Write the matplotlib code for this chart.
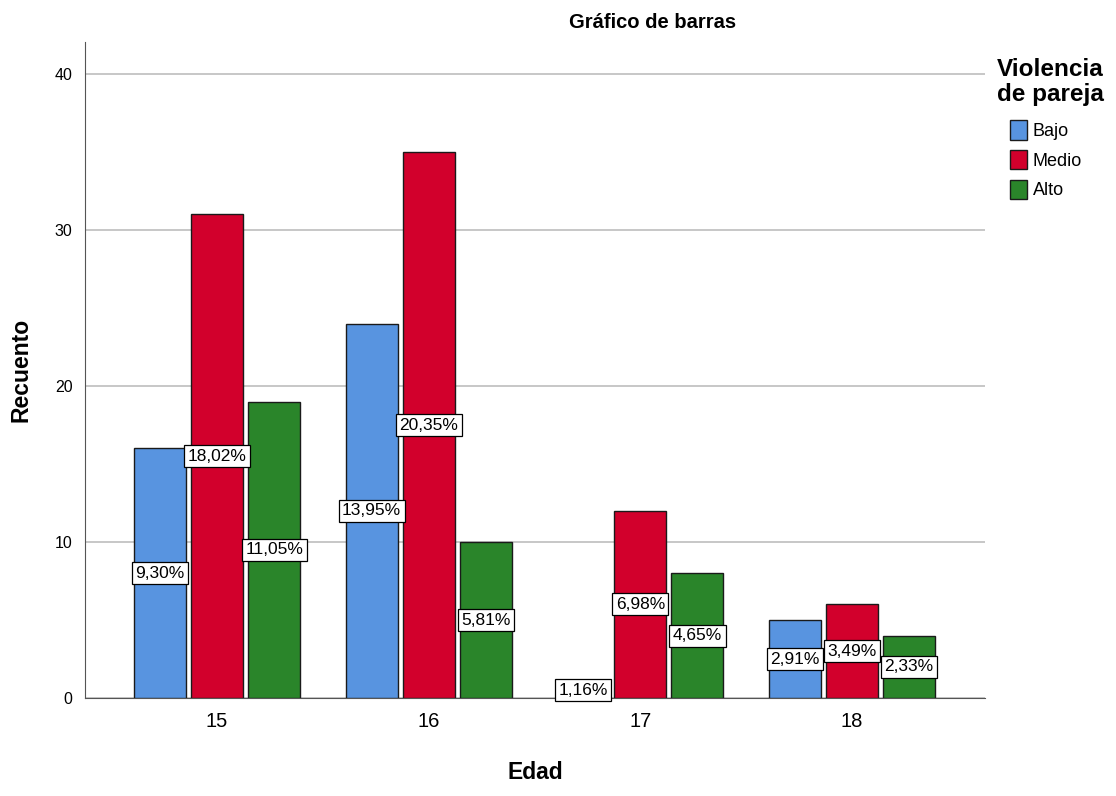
import numpy as np
import matplotlib.pyplot as plt

plt.rcParams['font.family'] = ['Liberation Sans', 'DejaVu Sans']

edades = ['15', '16', '17', '18']
niveles = ['Bajo', 'Medio', 'Alto']
recuento = {
    'Bajo': [16, 24, 1, 5],
    'Medio': [31, 35, 12, 6],
    'Alto': [19, 10, 8, 4],
}
porcentajes = {
    'Bajo': ['9,30%', '13,95%', '1,16%', '2,91%'],
    'Medio': ['18,02%', '20,35%', '6,98%', '3,49%'],
    'Alto': ['11,05%', '5,81%', '4,65%', '2,33%'],
}
colores = ['#5894e0', '#d2002c', '#2a852a']

fig = plt.figure(figsize=(11.16, 7.96), dpi=100)
ax = fig.add_axes([0.0762, 0.1231, 0.8064, 0.8241])

x = np.arange(len(edades))
width = 0.246
step = 0.27
for k, nivel in enumerate(niveles):
    pos = x + (k - 1) * step
    vals = np.array(recuento[nivel])
    ax.bar(pos, vals, width, color=colores[k], edgecolor='#1a1a1a',
           linewidth=1.0, label=nivel, zorder=3)
    for p, v, t in zip(pos, vals, porcentajes[nivel]):
        ax.text(p, v / 2, t, ha='center', va='center', fontsize=12.5, zorder=5,
                bbox=dict(boxstyle='square,pad=0.2', facecolor='white',
                          edgecolor='black', linewidth=0.9))

ax.set_xlim(-0.624, 3.629)
ax.set_ylim(0, 42.05)
ax.set_yticks([0, 10, 20, 30, 40])
ax.set_xticks(x)
ax.set_xticklabels(edades, fontsize=14.5)
ax.tick_params(axis='y', labelsize=11.5, length=0, pad=9)
ax.tick_params(axis='x', length=0, pad=10)
ax.yaxis.grid(True, color='#b8b8b8', linewidth=1.1, zorder=0)
for s in ['top', 'right']:
    ax.spines[s].set_visible(False)
ax.spines['left'].set_color('#555555')
ax.spines['bottom'].set_color('#555555')

ax.set_ylabel('Recuento', fontsize=16.5, fontweight='bold', labelpad=16)
ax.set_xlabel('Edad', fontsize=16.5, fontweight='bold', labelpad=22)
fig.text(0.585, 0.972, 'Gráfico de barras', ha='center', va='center',
         fontsize=14.5, fontweight='bold')

fig.text(0.893, 0.897, 'Violencia\nde pareja', ha='left', va='center',
         fontsize=17.5, fontweight='bold', linespacing=1.15)
leg = ax.legend(loc='upper left', bbox_to_anchor=(0.897, 0.860),
                bbox_transform=fig.transFigure, frameon=False, borderpad=0,
                fontsize=13, handlelength=0.95, handleheight=1.25,
                handletextpad=0.3, labelspacing=0.55)

fig.savefig('out.png', dpi=100)
